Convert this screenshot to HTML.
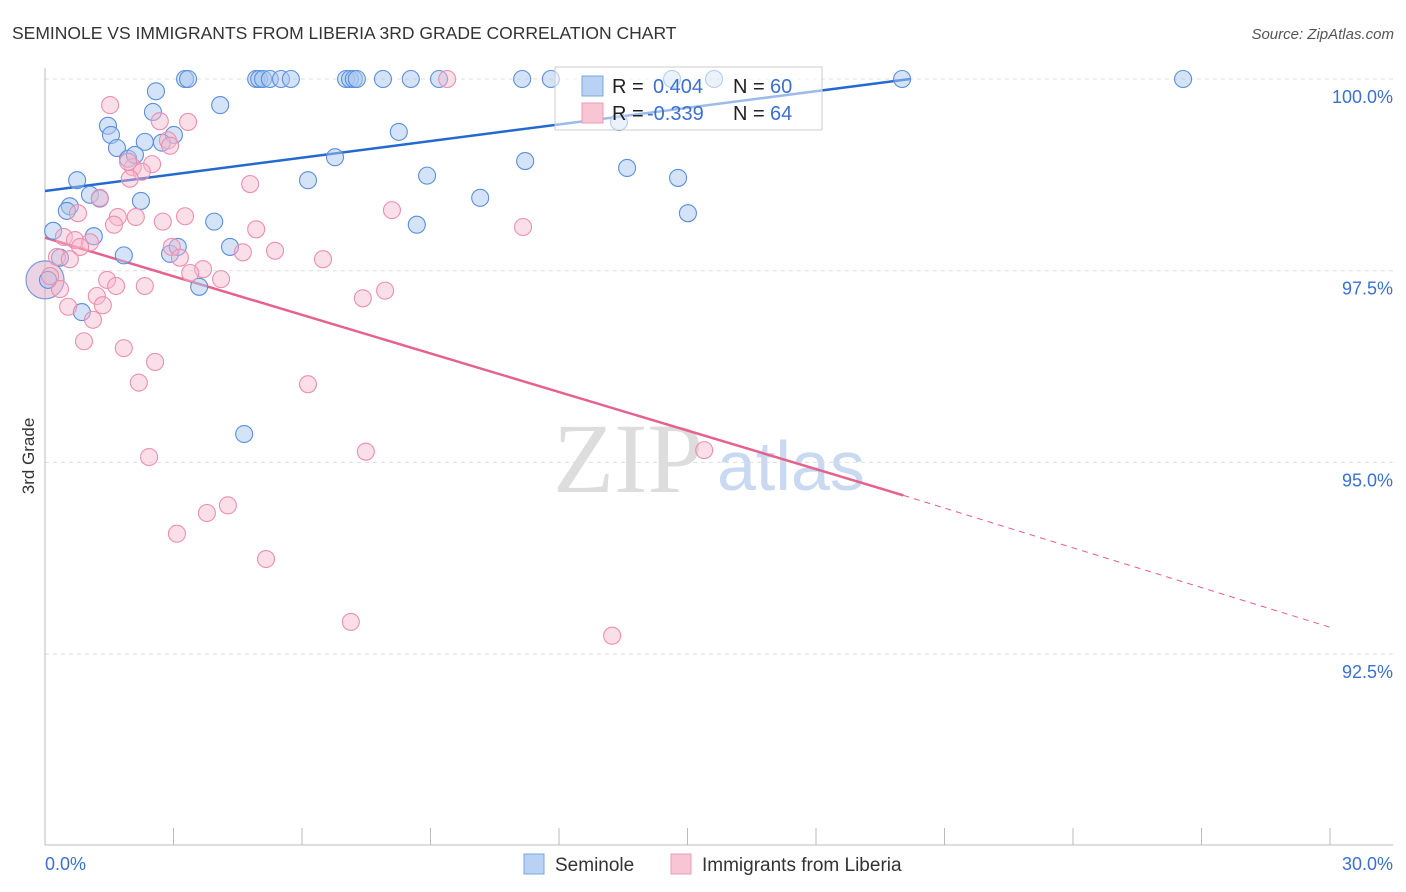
<!DOCTYPE html>
<html><head><meta charset="utf-8"><style>
body{margin:0;background:#fff;width:1406px;height:892px;overflow:hidden;font-family:"Liberation Sans",sans-serif}
svg{display:block}
</style></head><body>
<svg id="chart" width="1406" height="892">
<text x="12" y="39" font-size="17.5" fill="#333">SEMINOLE VS IMMIGRANTS FROM LIBERIA 3RD GRADE CORRELATION CHART</text>
<text x="1394" y="39" font-size="15" fill="#555" font-style="italic" text-anchor="end">Source: ZipAtlas.com</text>
<text x="34" y="456" font-size="17" fill="#333" text-anchor="middle" transform="rotate(-90 34 456)">3rd Grade</text>
<g>
<text x="553" y="492" font-family="Liberation Serif,serif" font-size="100" fill="#ddd">ZIP</text>
<text x="717" y="490" font-size="70" fill="#c9d9f2">atlas</text>
</g>
<g id="grid"></g><g id="axes"></g><g id="lines"></g><g id="pts"></g>
<g>
<rect x="555" y="67" width="267" height="63" fill="#fff" fill-opacity="0.55" stroke="#ccc"/>
<rect x="582" y="76" width="21" height="20" fill="#b9d2f3" stroke="#7aa5e3"/>
<rect x="582" y="103" width="21" height="20" fill="#f8c5d4" stroke="#ee9ab4"/>
<text x="612" y="93" font-size="20" fill="#222">R =</text>
<text x="653" y="93" font-size="20" fill="#3b6fd4">0.404</text>
<text x="733" y="93" font-size="20" fill="#222">N =</text>
<text x="770" y="93" font-size="20" fill="#3b6fd4">60</text>
<text x="612" y="120" font-size="20" fill="#222">R =</text>
<text x="647" y="120" font-size="20" fill="#3b6fd4">-0.339</text>
<text x="733" y="120" font-size="20" fill="#222">N =</text>
<text x="770" y="120" font-size="20" fill="#3b6fd4">64</text>
</g>
<g>
<rect x="524" y="854" width="20" height="20" fill="#b9d2f3" stroke="#7aa5e3"/>
<text x="555" y="871" font-size="19" fill="#333">Seminole</text>
<rect x="671" y="854" width="20" height="20" fill="#f8c5d4" stroke="#ee9ab4"/>
<text x="702" y="871" font-size="19" fill="#333">Immigrants from Liberia</text>
</g>
</svg>
<script>
const yTicks=[100,97.5,95,92.5];
const yTickLabels=["100.0%","97.5%","95.0%","92.5%"];
const xTicks=[0,3,6,9,12,15,18,21,24,27,30];
const xEndLabels=["0.0%","30.0%"];
const blueX=[3.27,3.34,4.93,5.00,5.09,5.25,5.51,5.74,7.03,7.12,7.21,7.28,7.89,8.54,9.20,11.14,11.81,14.64,15.62,20.01,26.57,2.59,4.09,2.52,1.47,1.54,1.68,2.33,3.01,2.73,1.94,2.10,0.75,1.05,1.28,2.24,0.58,0.51,0.19,1.14,1.84,2.92,3.10,4.32,3.60,0.86,4.65,0.35,0.07,6.77,6.14,8.26,8.92,8.68,10.16,11.21,13.59,14.78,15.01,13.40,3.95];
const blueY=[100,100,100,100,100,100,100,100,100,100,100,100,100,100,100,100,100,100,100,100,100,99.84,99.66,99.57,99.39,99.27,99.10,99.18,99.27,99.17,98.96,99.01,98.68,98.49,98.44,98.41,98.34,98.28,98.02,97.95,97.70,97.72,97.81,97.81,97.29,96.96,95.37,97.67,97.38,98.98,98.68,99.31,98.74,98.10,98.45,98.93,98.84,98.71,98.25,99.44,98.14];
const pinkX=[1.52,2.68,3.34,2.87,2.92,2.50,2.05,2.26,1.98,1.94,1.28,0.77,4.79,8.10,11.16,2.75,3.27,2.12,1.70,1.61,0.44,0.70,1.05,0.82,2.96,4.93,4.62,5.37,6.49,0.28,0.58,3.15,3.69,3.39,4.11,1.45,2.33,1.66,0.35,1.21,1.35,0.54,1.12,0.12,7.94,7.42,0.91,1.84,2.57,2.19,6.14,2.43,7.49,15.39,4.27,3.78,3.08,5.16,7.14,13.24,9.39];
const pinkY=[99.66,99.45,99.44,99.20,99.13,98.89,98.85,98.79,98.70,98.92,98.45,98.25,98.63,98.29,98.07,98.14,98.21,98.20,98.20,98.10,97.94,97.90,97.87,97.81,97.81,98.04,97.74,97.76,97.65,97.68,97.65,97.67,97.52,97.47,97.39,97.38,97.30,97.30,97.26,97.17,97.05,97.03,96.86,97.43,97.24,97.14,96.58,96.49,96.31,96.04,96.02,95.07,95.14,95.16,94.44,94.34,94.07,93.74,92.92,92.74,100];
const blueTrend=[[0,98.54],[20.2,100]];
const pinkTrend=[[0,97.93],[20.04,94.57],[30,92.85]];
const X=v=>45+v/30*1285;
const Y=v=>79+(100-v)*76.68;
const NS="http://www.w3.org/2000/svg";
function mk(tag,parent,attrs){const e=document.createElementNS(NS,tag);for(const k in attrs)e.setAttribute(k,attrs[k]);document.getElementById(parent).appendChild(e);return e;}
yTicks.forEach((t,i)=>{
 const l=mk('line','grid',{x1:45,x2:1393,y1:Y(t),y2:Y(t),stroke:'#ddd','stroke-dasharray':'4,4'});
 
 
 const tx=mk('text','axes',{x:1393,y:Y(t)+24,'font-size':18,fill:'#3b6fd4','text-anchor':'end'});
 tx.textContent=yTickLabels[i];
 
 
});
const ya=mk('line','axes',{x1:45,x2:45,y1:68,y2:845,stroke:'#bbb'});


const xa=mk('line','axes',{x1:45,x2:1393,y1:845,y2:845,stroke:'#bbb'});


xTicks.forEach(t=>{
 const l=mk('line','axes',{x1:X(t),x2:X(t),y1:828,y2:845,stroke:'#bbb'});
 
 
});
const xl0=mk('text','axes',{x:45,y:870,'font-size':18,fill:'#3b6fd4'});
xl0.textContent=xEndLabels[0];


const xl1=mk('text','axes',{x:1393,y:870,'font-size':18,fill:'#3b6fd4','text-anchor':'end'});
xl1.textContent=xEndLabels[1];


const big=mk('circle','pts',{cx:X(0),cy:Y(97.38),r:19,fill:'#d8a8c8','fill-opacity':0.5,stroke:'#7a9ad8','stroke-width':1.2});


blueX.forEach((x,i)=>{
 const c=mk('circle','pts',{cx:X(x),cy:Y(blueY[i]),r:8.5,fill:'#a9c7f0','fill-opacity':0.5,stroke:'#5a8fdc','stroke-width':1.1});
 
 
});
pinkX.forEach((x,i)=>{
 const c=mk('circle','pts',{cx:X(x),cy:Y(pinkY[i]),r:8.5,fill:'#f6b8cb','fill-opacity':0.45,stroke:'#ec8fae','stroke-width':1.1});
 
 
});
const bl=mk('line','lines',{x1:X(blueTrend[0][0]),y1:Y(blueTrend[0][1]),x2:X(blueTrend[1][0]),y2:Y(blueTrend[1][1]),stroke:'#2469d0','stroke-width':2.5});


const pl=mk('line','lines',{x1:X(pinkTrend[0][0]),y1:Y(pinkTrend[0][1]),x2:X(pinkTrend[1][0]),y2:Y(pinkTrend[1][1]),stroke:'#e5628d','stroke-width':2.5});


const pd=mk('line','lines',{x1:X(pinkTrend[1][0]),y1:Y(pinkTrend[1][1]),x2:X(pinkTrend[2][0]),y2:Y(pinkTrend[2][1]),stroke:'#e5628d','stroke-width':1,'stroke-dasharray':'6,5'});


</script>
</body></html>
